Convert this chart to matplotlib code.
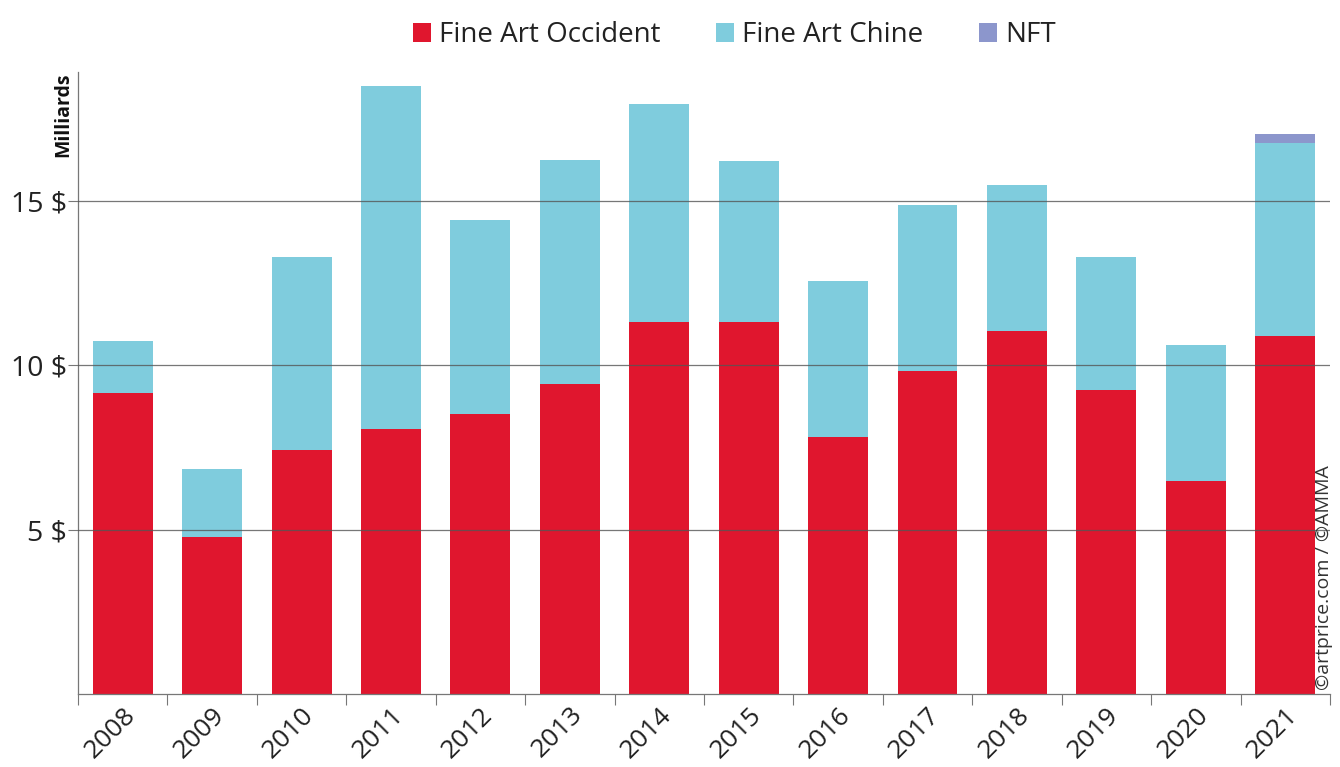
import matplotlib
matplotlib.use("Agg")
import matplotlib.pyplot as plt
import numpy as np

years = ["2008", "2009", "2010", "2011", "2012", "2013", "2014",
         "2015", "2016", "2017", "2018", "2019", "2020", "2021"]
occident = [9.16, 4.78, 7.43, 8.07, 8.52, 9.44, 11.32, 11.32, 7.82, 9.83, 11.05, 9.25, 6.48, 10.90]
chine = [1.59, 2.07, 5.87, 10.43, 5.91, 6.82, 6.64, 4.90, 4.75, 5.06, 4.44, 4.05, 4.14, 5.87]
nft = [0, 0, 0, 0, 0, 0, 0, 0, 0, 0, 0, 0, 0, 0.28]
ytick_vals = [5, 10, 15]
ytick_labels = ["5 $", "10 $", "15 $"]

plt.rcParams['font.family'] = ['Open Sans', 'DejaVu Sans']

c_red = "#E0162E"
c_blue = "#7FCCDD"
c_nft = "#8C96CC"

fig = plt.figure(figsize=(13.4, 7.67), dpi=100)
ax = fig.add_axes([0.0582, 0.0952, 0.9343, 0.8108])

x = np.arange(len(years))
w = 0.67
occ = np.array(occident)
chi = np.array(chine)
nf = np.array(nft)
ax.bar(x, occ, w, color=c_red, label="Fine Art Occident", zorder=2)
ax.bar(x, chi, w, bottom=occ, color=c_blue, label="Fine Art Chine", zorder=2)
ax.bar(x, nf, w, bottom=occ + chi, color=c_nft, label="NFT", zorder=2)

ax.set_xlim(-0.5, len(years) - 0.5)
ax.set_ylim(0, 18.92)

for v in ytick_vals:
    ax.axhline(v, color="#555555", lw=0.9, zorder=3, alpha=0.8)

ax.set_yticks(ytick_vals)
ax.set_yticklabels(ytick_labels, fontsize=20.5, color="#222222")
ax.tick_params(axis="y", length=7, width=0.8, color="#777777", pad=1)

ax.set_xticks(x)
ax.set_xticklabels(years, rotation=45, ha="right", rotation_mode="anchor",
                   fontsize=19, color="#222222")
ax.tick_params(axis="x", which="major", length=0, pad=6)
ax.set_xticks(np.arange(-0.5, len(years), 1.0), minor=True)
ax.tick_params(axis="x", which="minor", length=8, width=0.8, color="#777777")

for s in ["top", "right"]:
    ax.spines[s].set_visible(False)
for s in ["left", "bottom"]:
    ax.spines[s].set_color("#777777")
    ax.spines[s].set_linewidth(0.9)

fig.text(0.047, 0.906, "Milliards", rotation=90, fontsize=14, fontweight="bold",
         ha="center", va="top", color="#111111")
fig.text(0.988, 0.10, "©artprice.com / ©AMMA", rotation=90, fontsize=14,
         ha="center", va="bottom", color="#333333")

leg = fig.legend(loc="upper center", bbox_to_anchor=(0.548, 1.005), ncol=3, frameon=False,
                 fontsize=20, handlelength=0.65, handleheight=0.65, handletextpad=0.3,
                 columnspacing=2.0)
for t in leg.get_texts():
    t.set_color("#222222")

fig.savefig("out.png", dpi=100)
